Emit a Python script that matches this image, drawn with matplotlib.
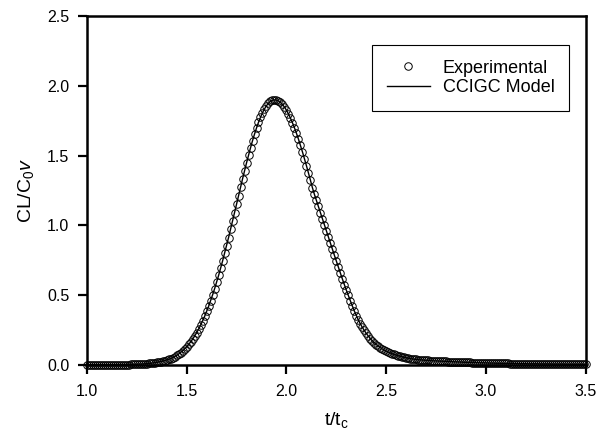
import numpy as np
import matplotlib
matplotlib.use("Agg")
import matplotlib.pyplot as plt

plt.rcParams['font.family'] = ['Liberation Sans', 'DejaVu Sans']
plt.rcParams['mathtext.fontset'] = 'custom'
plt.rcParams['mathtext.rm'] = 'Liberation Sans'
plt.rcParams['mathtext.it'] = 'Liberation Sans:italic'

# CL/C0v at t/tc = 1.00, 1.01, ..., 3.50
cl_exp = [
    0.002, 0.002, 0.002, 0.002, 0.002, 0.002, 0.002, 0.002, 0.002, 0.002,  # 1.0
    0.002, 0.002, 0.002, 0.002, 0.002, 0.003, 0.003, 0.003, 0.003, 0.003,  # 1.1
    0.003, 0.003, 0.004, 0.004, 0.005, 0.005, 0.006, 0.006, 0.007, 0.008,  # 1.2
    0.009, 0.011, 0.012, 0.014, 0.016, 0.018, 0.021, 0.024, 0.027, 0.031,  # 1.3
    0.036, 0.040, 0.045, 0.052, 0.060, 0.068, 0.078, 0.089, 0.101, 0.115,  # 1.4
    0.130, 0.147, 0.165, 0.185, 0.207, 0.231, 0.257, 0.285, 0.316, 0.348,  # 1.5
    0.383, 0.420, 0.460, 0.502, 0.546, 0.593, 0.641, 0.692, 0.745, 0.800,  # 1.6
    0.856, 0.913, 0.972, 1.032, 1.092, 1.152, 1.213, 1.273, 1.333, 1.391,  # 1.7
    1.448, 1.503, 1.556, 1.607, 1.654, 1.698, 1.739, 1.775, 1.808, 1.835,  # 1.8
    1.858, 1.876, 1.890, 1.897, 1.900, 1.898, 1.892, 1.881, 1.867, 1.848,  # 1.9
    1.826, 1.799, 1.769, 1.736, 1.700, 1.661, 1.619, 1.574, 1.528, 1.479,  # 2.0
    1.429, 1.378, 1.325, 1.271, 1.223, 1.180, 1.136, 1.092, 1.049, 1.005,  # 2.1
    0.961, 0.917, 0.873, 0.830, 0.787, 0.744, 0.701, 0.659, 0.617, 0.576,  # 2.2
    0.536, 0.498, 0.461, 0.423, 0.387, 0.354, 0.323, 0.295, 0.270, 0.247,  # 2.3
    0.226, 0.207, 0.189, 0.173, 0.159, 0.146, 0.135, 0.124, 0.115, 0.106,  # 2.4
    0.099, 0.092, 0.086, 0.080, 0.075, 0.070, 0.066, 0.062, 0.058, 0.054,  # 2.5
    0.051, 0.048, 0.045, 0.043, 0.041, 0.039, 0.038, 0.036, 0.035, 0.034,  # 2.6
    0.033, 0.032, 0.031, 0.030, 0.029, 0.029, 0.028, 0.027, 0.027, 0.026,  # 2.7
    0.025, 0.024, 0.024, 0.023, 0.022, 0.022, 0.021, 0.021, 0.020, 0.019,  # 2.8
    0.019, 0.018, 0.018, 0.017, 0.017, 0.016, 0.016, 0.015, 0.015, 0.015,  # 2.9
    0.014, 0.014, 0.013, 0.013, 0.013, 0.012, 0.012, 0.012, 0.011, 0.011,  # 3.0
    0.011, 0.011, 0.010, 0.010, 0.010, 0.010, 0.009, 0.009, 0.009, 0.009,  # 3.1
    0.009, 0.008, 0.008, 0.008, 0.008, 0.008, 0.008, 0.007, 0.007, 0.007,  # 3.2
    0.007, 0.007, 0.007, 0.006, 0.006, 0.006, 0.006, 0.006, 0.006, 0.006,  # 3.3
    0.005, 0.005, 0.005, 0.005, 0.005, 0.005, 0.005, 0.005, 0.005, 0.005,  # 3.4
    0.005,                                                                 # 3.5
]
# the model curve runs through the centres of the circles
cl_model = cl_exp
t = np.linspace(1.0, 3.5, len(cl_exp))

x_ticks = [1.0, 1.5, 2.0, 2.5, 3.0, 3.5]
y_ticks = [0.0, 0.5, 1.0, 1.5, 2.0, 2.5]


def main():
    fig = plt.figure(figsize=(5.99, 4.36), dpi=100)
    ax = fig.add_axes([0.145, 0.163, 0.833, 0.8])

    ax.plot(t, cl_exp, 'o', mfc='none', mec='black', ms=5.4, mew=0.7,
            clip_on=False, label="Experimental")
    ax.plot(t, cl_model, '-', color='black', lw=1.0, clip_on=False,
            label="CCIGC Model")

    ax.set_xlim(1.0, 3.5)
    ax.set_ylim(0.0, 2.5)
    ax.set_xticks(x_ticks)
    ax.set_yticks(y_ticks)
    ax.set_xticklabels(["%.1f" % v for v in x_ticks])
    ax.set_yticklabels(["%.1f" % v for v in y_ticks])

    for s in ax.spines.values():
        s.set_linewidth(1.8)
    ax.tick_params(axis='both', direction='out', length=6.5, width=1.6,
                   labelsize=11.5)
    ax.tick_params(axis='x', pad=7)
    ax.tick_params(axis='y', pad=6)

    ax.set_xlabel("t/t$_{\\mathrm{c}}$", fontsize=14, labelpad=8)
    ax.set_ylabel("CL/C$_{\\mathrm{0}}$$v$", fontsize=14, labelpad=8)

    leg = ax.legend(loc='upper right', bbox_to_anchor=(0.966, 0.917),
                    fontsize=13, frameon=True, fancybox=False,
                    edgecolor='black', framealpha=1, borderaxespad=0,
                    handlelength=2.4, handletextpad=0.7, borderpad=0.8,
                    labelspacing=0.15)
    leg.get_frame().set_linewidth(0.8)

    fig.savefig("out.png", dpi=100)


if __name__ == "__main__":
    main()
